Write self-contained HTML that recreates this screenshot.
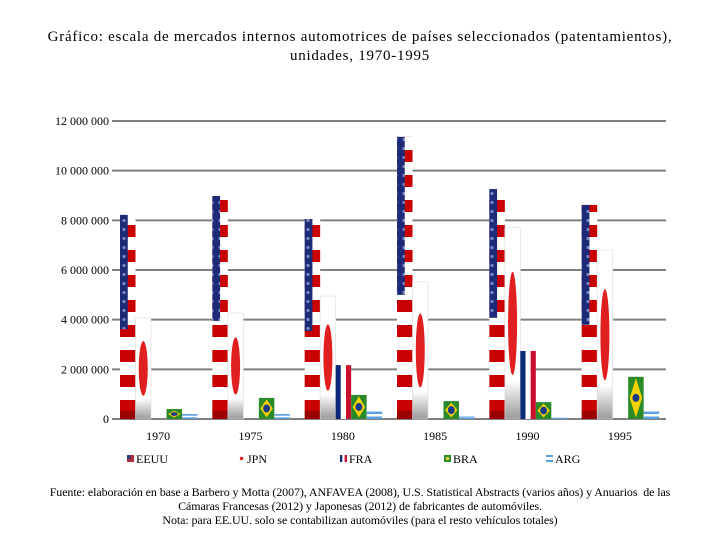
<!DOCTYPE html>
<html><head><meta charset="utf-8">
<style>
body{margin:0;background:#fff;}
#wrap{position:relative;width:720px;height:540px;overflow:hidden;font-family:"Liberation Serif",serif;}
.title{position:absolute;left:0;top:28px;width:720px;text-align:center;font-size:15px;line-height:19px;color:#000;letter-spacing:0.75px;}
.foot{position:absolute;left:0;top:485px;width:720px;text-align:center;font-size:12px;line-height:14px;color:#000;letter-spacing:-0.1px;}
svg{position:absolute;left:0;top:0;}
</style></head>
<body>
<div id="wrap">
<div class="title">Gráfico: escala de mercados internos automotrices de países seleccionados (patentamientos),<br>unidades, 1970-1995</div>
<svg id="chart" width="720" height="540">
<defs>
<pattern id="usStripes" patternUnits="userSpaceOnUse" width="16" height="25">
<rect width="16" height="25" fill="#fff"/><rect y="0" width="16" height="12" fill="#c80000"/></pattern>
<pattern id="usStars" patternUnits="userSpaceOnUse" width="8" height="9">
<rect width="8" height="9" fill="#1c2a78"/><circle cx="4" cy="4.5" r="1.6" fill="#7a86c0"/></pattern>
<linearGradient id="jpGrad" x1="0" y1="0" x2="0" y2="1"><stop offset="0.8" stop-color="#fff"/><stop offset="1" stop-color="#999"/></linearGradient>
</defs>
</svg>
<div class="foot">Fuente: elaboración en base a Barbero y Motta (2007), ANFAVEA (2008), U.S. Statistical Abstracts (varios años) y Anuarios&nbsp; de las<br>Cámaras Francesas (2012) y Japonesas (2012) de fabricantes de automóviles.<br>Nota: para EE.UU. solo se contabilizan automóviles (para el resto vehículos totales)</div>
</div>
<script>
const years = ["1970","1975","1980","1985","1990","1995"];
const seriesNames = ["EEUU","JPN","FRA","BRA","ARG"];
const usVals  = [8220000, 8980000, 8050000, 11360000, 9260000, 8620000];
const jpVals  = [4070000, 4270000, 4950000, 5520000, 7700000, 6800000];
const frVals  = [0, 0, 2170000, 0, 2740000, 0];
const brVals  = [400000, 850000, 970000, 720000, 680000, 1700000];
const arVals  = [200000, 200000, 300000, 100000, 50000, 300000];
const yTicks  = [0, 2000000, 4000000, 6000000, 8000000, 10000000, 12000000];
const yTickLabels = ["0","2 000 000","4 000 000","6 000 000","8 000 000","10 000 000","12 000 000"];

const NS="http://www.w3.org/2000/svg";
const svg=document.getElementById('chart');
const X0=112,X1=666,Y0=419,Y1=121,YMAX=12000000;
const groupW=(X1-X0)/years.length;
const barW=15.5;
function yScale(v){return Y0-(v/YMAX)*(Y0-Y1);}
function xBar(g,s){return X0+g*groupW+8+s*barW;}
function mk(tag,attrs,parent){const e=document.createElementNS(NS,tag);for(const k in attrs)e.setAttribute(k,attrs[k]);(parent||svg).appendChild(e);return e;}

yTicks.forEach((t,i)=>{
  const y=yScale(t);
  const l=mk('line',{x1:X0,x2:X1,y1:y,y2:y,stroke:'#808080','stroke-width':2});
  
  
  const tx=mk('text',{x:109,y:y+4,'text-anchor':'end','font-size':12,'font-family':'Liberation Serif, serif'});
  tx.textContent=yTickLabels[i];
  
  
});
years.forEach((yr,g)=>{
  const tx=mk('text',{x:X0+g*groupW+groupW/2,y:440,'text-anchor':'middle','font-size':12,'font-family':'Liberation Serif, serif'});
  tx.textContent=yr;
  
  
});

function drawUS(g,v){
  const x=xBar(g,0),y=yScale(v),h=Y0-y;
  const gr=mk('g',{});
  
  
  mk('rect',{x:x,y:y,width:barW,height:h,fill:'url(#usStripes)'},gr);
  mk('rect',{x:x,y:y,width:barW/2,height:h*0.56,fill:'url(#usStars)'},gr);
  mk('rect',{x:x,y:Y0-8,width:barW,height:8,fill:'#900'},gr);
}
function drawJP(g,v){
  const x=xBar(g,1),y=yScale(v),h=Y0-y;
  const gr=mk('g',{});
  
  
  mk('rect',{x:x,y:y,width:barW,height:h,fill:'url(#jpGrad)',stroke:'#ddd','stroke-width':0.6},gr);
  mk('ellipse',{cx:x+barW/2,cy:y+h*0.5,rx:4.5,ry:h*0.27,fill:'#e02020'},gr);
}
function drawFR(g,v){
  if(v<=0)return;
  const x=xBar(g,2),y=yScale(v),h=Y0-y;
  const gr=mk('g',{});
  
  
  mk('rect',{x:x,y:y,width:barW/3,height:h,fill:'#0a2a78'},gr);
  mk('rect',{x:x+barW/3,y:y,width:barW/3,height:h,fill:'#fff'},gr);
  mk('rect',{x:x+2*barW/3,y:y,width:barW/3,height:h,fill:'#c8102e'},gr);
}
function drawBR(g,v){
  const x=xBar(g,3),y=yScale(v),h=Y0-y;
  const gr=mk('g',{});
  
  
  mk('rect',{x:x,y:y,width:barW,height:h,fill:'#2a8a2a'},gr);
  const cx=x+barW/2,cy=y+h/2,dx=barW/2-1.5,dy=h/2-1.5;
  mk('polygon',{points:`${cx},${cy-dy} ${cx+dx},${cy} ${cx},${cy+dy} ${cx-dx},${cy}`,fill:'#f5d000'},gr);
  mk('ellipse',{cx:cx,cy:cy,rx:Math.min(4,dx*0.55),ry:Math.min(4,dy*0.55),fill:'#1a3a8a'},gr);
}
function drawAR(g,v){
  const x=xBar(g,4),y=yScale(v),h=Y0-y;
  const gr=mk('g',{});
  
  
  mk('rect',{x:x,y:y,width:barW,height:h,fill:'#fff'},gr);
  mk('rect',{x:x,y:y,width:barW,height:Math.max(h/3,1.2),fill:'#5aa0e0'},gr);
  mk('rect',{x:x,y:Y0-Math.max(h/3,1),width:barW,height:Math.max(h/3,1),fill:'#5aa0e0'},gr);
}
years.forEach((yr,g)=>{drawUS(g,usVals[g]);drawJP(g,jpVals[g]);drawFR(g,frVals[g]);drawBR(g,brVals[g]);drawAR(g,arVals[g]);});

const legX=[127,238,340,444,546];
seriesNames.forEach((n,i)=>{
  const gr=mk('g',{});
  
  
  const x=legX[i],y=455;
  if(i===0){mk('rect',{x:x,y:y,width:7,height:7,fill:'#b03040'},gr);mk('rect',{x:x,y:y,width:3.5,height:4,fill:'#303a80'},gr);}
  if(i===1){mk('circle',{cx:x+3.5,cy:y+3.5,r:1.7,fill:'#e02020'},gr);}
  if(i===2){mk('rect',{x:x,y:y,width:2.3,height:7,fill:'#0a2a78'},gr);mk('rect',{x:x+4.6,y:y,width:2.4,height:7,fill:'#c8102e'},gr);}
  if(i===3){mk('rect',{x:x,y:y,width:7,height:7,fill:'#2a8a2a'},gr);mk('circle',{cx:x+3.5,cy:y+3.5,r:1.8,fill:'#d8d040'},gr);}
  if(i===4){mk('rect',{x:x,y:y,width:7,height:2,fill:'#5aa0e0'},gr);mk('rect',{x:x,y:y+5,width:7,height:2,fill:'#5aa0e0'},gr);}
  const tx=mk('text',{x:x+9,y:y+8,'font-size':12,'font-family':'Liberation Serif, serif'},gr);
  tx.textContent=n;
});
</script>
</body></html>
